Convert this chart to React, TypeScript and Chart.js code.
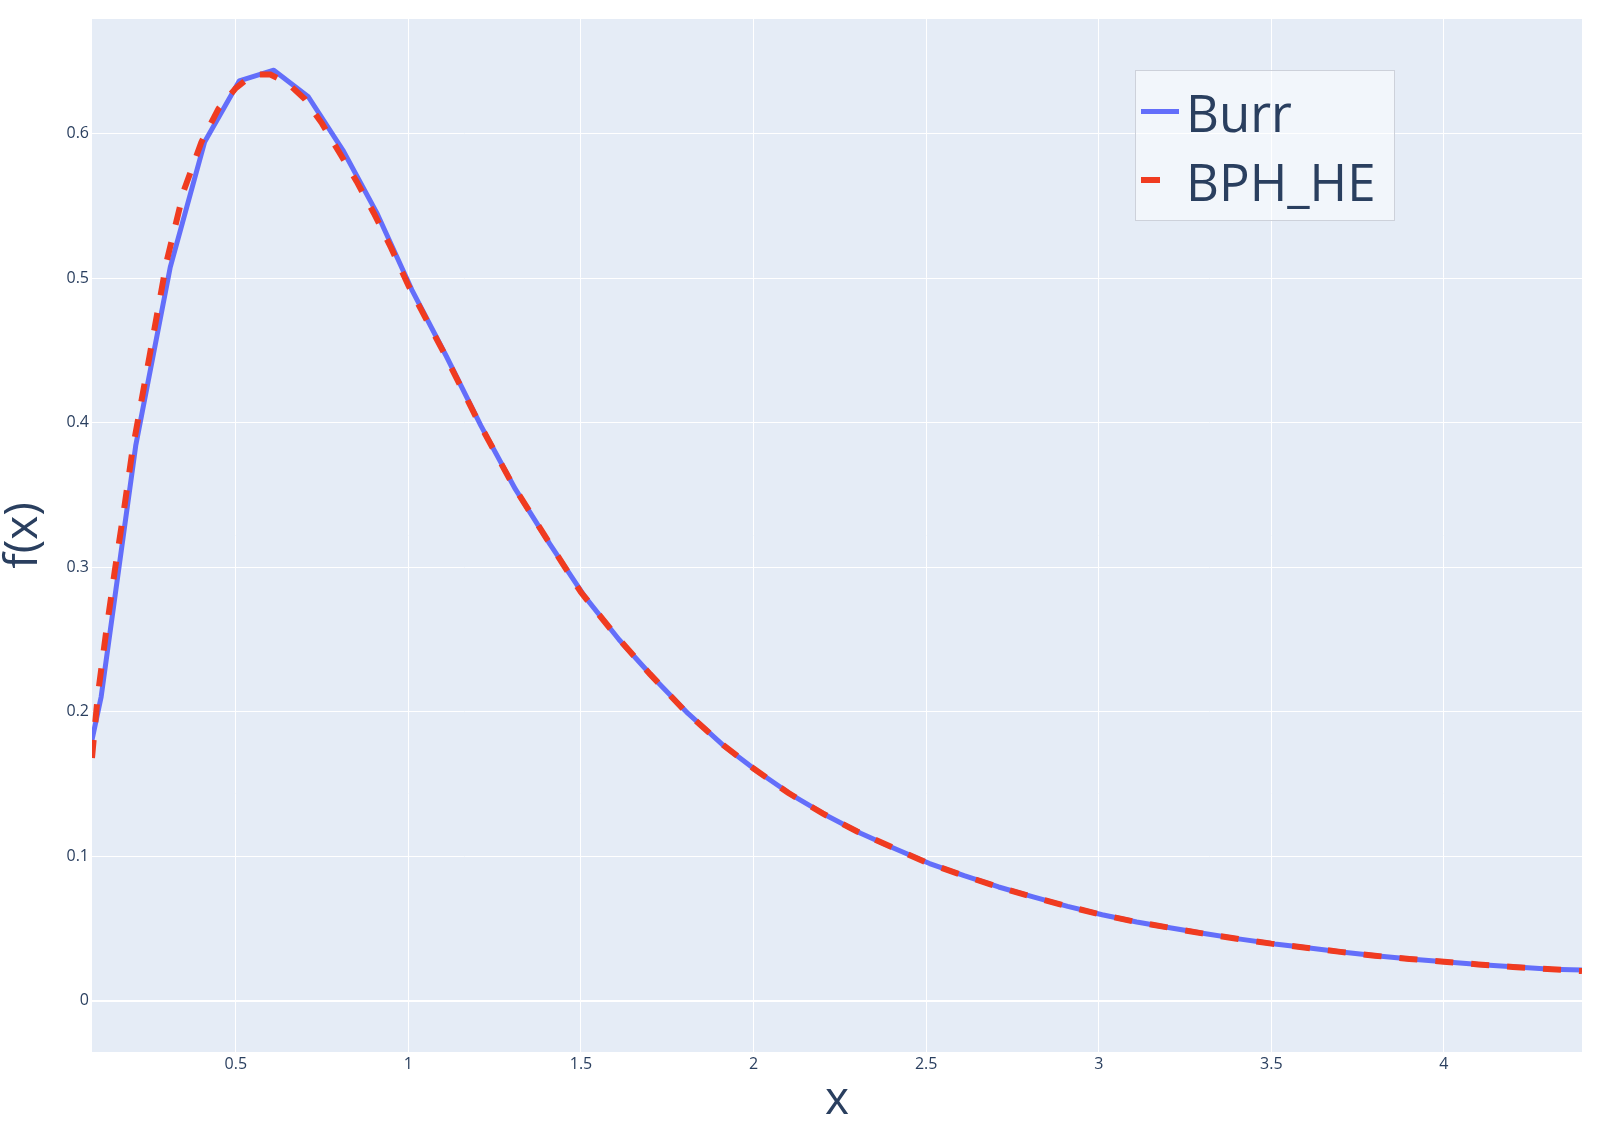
import React, { useEffect, useRef } from "react";
import { Chart, registerables } from "chart.js";

Chart.register(...registerables);

// Burr (coarse sampling, solid line)
const burrX = [
  0.01, 0.11, 0.21, 0.31, 0.41, 0.51, 0.61, 0.71, 0.81, 0.91,
  1.01, 1.11, 1.21, 1.31, 1.41, 1.51, 1.61, 1.71, 1.81, 1.91,
  2.01, 2.11, 2.21, 2.31, 2.41, 2.51, 2.61, 2.71, 2.81, 2.91,
  3.01, 3.11, 3.21, 3.31, 3.41, 3.51, 3.61, 3.71, 3.81, 3.91,
  4.01, 4.11, 4.21, 4.31, 4.41,
];
const burrY = [
  0.098, 0.2104, 0.384, 0.5075, 0.5945, 0.6365, 0.644, 0.6256, 0.5887, 0.5445,
  0.492, 0.446, 0.398, 0.354, 0.316, 0.28, 0.25, 0.2235, 0.1988, 0.1772,
  0.159, 0.1425, 0.1284, 0.1159, 0.1052, 0.0949, 0.0865, 0.0787, 0.0718, 0.0653,
  0.0595, 0.0545, 0.0503, 0.0463, 0.0426, 0.0392, 0.0364, 0.0336, 0.0309, 0.0287,
  0.0268, 0.0249, 0.0233, 0.0218, 0.0212,
];

// BPH_HE (fine sampling, dashed line)
const bphX = [
  0.0834, 0.1, 0.125, 0.15, 0.175, 0.2, 0.25, 0.3, 0.35, 0.4,
  0.45, 0.5, 0.55, 0.6, 0.65, 0.7, 0.75, 0.8, 0.85, 0.9,
  0.95, 1.0, 1.1, 1.2, 1.3, 1.4, 1.5, 1.6, 1.7, 1.8,
  1.9, 2.0, 2.1, 2.2, 2.3, 2.4, 2.5, 2.6, 2.7, 2.8,
  2.9, 3.0, 3.1, 3.2, 3.3, 3.4, 3.5, 3.6, 3.7, 3.8,
  3.9, 4.0, 4.1, 4.2, 4.3, 4.4,
];
const bphY = [
  0.168, 0.211, 0.2563, 0.2985, 0.338, 0.38, 0.446, 0.512, 0.561, 0.594,
  0.6174, 0.6316, 0.641, 0.641, 0.635, 0.624, 0.607, 0.587, 0.567, 0.545,
  0.521, 0.495, 0.4497, 0.402, 0.358, 0.32, 0.2826, 0.253, 0.226, 0.2008,
  0.1792, 0.1607, 0.1439, 0.1296, 0.1171, 0.1063, 0.0957, 0.0873, 0.0794, 0.0724,
  0.0659, 0.06, 0.0549, 0.0507, 0.0466, 0.0429, 0.0395, 0.0367, 0.0338, 0.0311,
  0.0289, 0.027, 0.0251, 0.0234, 0.0219, 0.0205,
];

const seriesNames = ["Burr", "BPH_HE"];
const xTickValues = [0.5, 1, 1.5, 2, 2.5, 3, 3.5, 4];
const xTickLabels = ["0.5", "1", "1.5", "2", "2.5", "3", "3.5", "4"];
const yTickValues = [0, 0.1, 0.2, 0.3, 0.4, 0.5, 0.6];
const yTickLabels = ["0", "0.1", "0.2", "0.3", "0.4", "0.5", "0.6"];
const xTitle = "x";
const yTitle = "f(x)";

const BLUE = "#636efa";
const RED = "#f03b20";
const TEXT = "#2a3f5f";
const FONT = "'Open Sans', 'Noto Sans', sans-serif";

const bgPlugin = {
  id: "bgPlugin",
  beforeDraw(chart: any) {
    const { ctx, chartArea: a } = chart;
    ctx.save();
    ctx.fillStyle = "#ffffff";
    ctx.fillRect(0, 0, chart.width, chart.height);
    ctx.fillStyle = "#E5ECF6";
    ctx.fillRect(a.left, a.top, a.right - a.left, a.bottom - a.top);
    ctx.restore();
  },
};

const overlayPlugin = {
  id: "overlayPlugin",
  afterDraw(chart: any) {
    const { ctx, chartArea: a } = chart;
    ctx.save();
    // axis titles
    ctx.fillStyle = TEXT;
    ctx.font = `46px ${FONT}`;
    ctx.textAlign = "center";
    ctx.textBaseline = "alphabetic";
    ctx.fillText(xTitle, (a.left + a.right) / 2, 1114);
    ctx.save();
    ctx.translate(37, (a.top + a.bottom) / 2);
    ctx.rotate(-Math.PI / 2);
    ctx.fillText(yTitle, 0, 0);
    ctx.restore();

    // legend box
    const lx = 1135.5, ly = 70.5, lw = 259, lh = 150;
    ctx.fillStyle = "rgba(255,255,255,0.5)";
    ctx.fillRect(lx, ly, lw, lh);
    ctx.strokeStyle = "#cdd1da";
    ctx.lineWidth = 1;
    ctx.strokeRect(lx, ly, lw, lh);

    // swatches
    ctx.lineCap = "butt";
    ctx.strokeStyle = BLUE;
    ctx.lineWidth = 5;
    ctx.beginPath();
    ctx.moveTo(1141, 111.5);
    ctx.lineTo(1179, 111.5);
    ctx.stroke();
    ctx.strokeStyle = RED;
    ctx.lineWidth = 6;
    ctx.beginPath();
    ctx.moveTo(1141, 180);
    ctx.lineTo(1160, 180);
    ctx.stroke();

    ctx.fillStyle = TEXT;
    ctx.font = `51px ${FONT}`;
    ctx.textAlign = "left";
    ctx.textBaseline = "alphabetic";
    ctx.fillText(seriesNames[0], 1186, 131.5);
    ctx.fillText(seriesNames[1], 1186, 200.5);
    ctx.restore();
  },
};

export default function App() {
  const canvasRef = useRef<HTMLCanvasElement | null>(null);

  useEffect(() => {
    document.body.style.margin = "0";
    const canvas = canvasRef.current;
    if (!canvas) return;
    const chart = new Chart(canvas, {
      type: "line",
      data: {
        datasets: [
          {
            label: seriesNames[0],
            data: burrX.map((x, i) => ({ x, y: burrY[i] })),
            borderColor: BLUE,
            backgroundColor: BLUE,
            borderWidth: 5,
            pointRadius: 0,
            tension: 0,
            fill: false,
            order: 2,
            borderJoinStyle: "round",
          },
          {
            label: seriesNames[1],
            data: bphX.map((x, i) => ({ x, y: bphY[i] })),
            borderColor: RED,
            backgroundColor: RED,
            borderWidth: 6,
            borderDash: [18, 18],
            pointRadius: 0,
            tension: 0,
            fill: false,
            order: 1,
          },
        ],
      },
      options: {
        animation: false,
        responsive: false,
        devicePixelRatio: 1,
        layout: { padding: { left: 0, top: 19, right: 18, bottom: 0 } },
        plugins: {
          legend: { display: false },
          tooltip: { enabled: false },
        },
        scales: {
          x: {
            type: "linear",
            min: 0.0834,
            max: 4.4,
            afterBuildTicks: (scale: any) => {
              scale.ticks = xTickValues.map((v) => ({ value: v }));
            },
            afterFit: (scale: any) => {
              scale.height = 80;
            },
            ticks: {
              autoSkip: false,
              maxRotation: 0,
              padding: 3,
              color: TEXT,
              font: { family: FONT, size: 16 },
              callback: (v: any) => {
                const i = xTickValues.indexOf(Number(v));
                return i >= 0 ? xTickLabels[i] : "";
              },
            },
            grid: { color: "#ffffff", lineWidth: 1, drawTicks: false },
            border: { display: false },
          },
          y: {
            type: "linear",
            min: -0.0355,
            max: 0.6794,
            afterBuildTicks: (scale: any) => {
              scale.ticks = yTickValues.map((v) => ({ value: v }));
            },
            afterFit: (scale: any) => {
              scale.width = 92;
            },
            ticks: {
              autoSkip: false,
              padding: 3,
              color: TEXT,
              font: { family: FONT, size: 16 },
              callback: (v: any) => {
                const i = yTickValues.indexOf(Number(v));
                return i >= 0 ? yTickLabels[i] : "";
              },
            },
            grid: {
              color: "#ffffff",
              lineWidth: (ctx: any) => (ctx.tick && ctx.tick.value === 0 ? 2 : 1),
              drawTicks: false,
            },
            border: { display: false },
          },
        },
      },
      plugins: [bgPlugin, overlayPlugin],
    } as any);
    return () => chart.destroy();
  }, []);

  return (
    <div style={{ position: "absolute", left: 0, top: 0, width: 1600, height: 1132, background: "#fff" }}>
      <canvas ref={canvasRef} width={1600} height={1132} style={{ width: 1600, height: 1132, display: "block" }} />
    </div>
  );
}
